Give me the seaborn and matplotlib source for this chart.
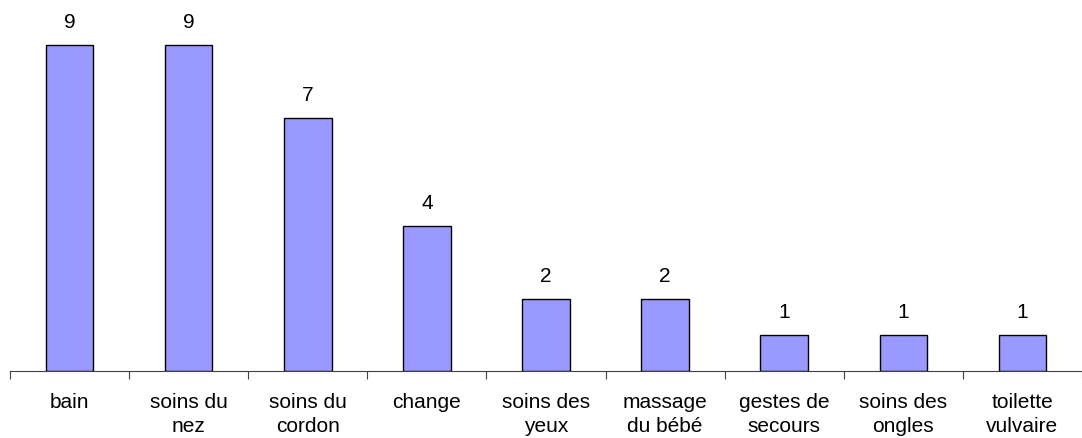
import matplotlib
matplotlib.use("Agg")
import matplotlib.pyplot as plt
import seaborn as sns
import pandas as pd
import numpy as np

categories = ["bain", "soins du\nnez", "soins du\ncordon", "change", "soins des\nyeux",
              "massage\ndu bébé", "gestes de\nsecours", "soins des\nongles", "toilette\nvulvaire"]
values = [9, 9, 7, 4, 2, 2, 1, 1, 1]

sns.set_style("white")
plt.rcParams["font.family"] = ["Liberation Sans", "DejaVu Sans"]

df = pd.DataFrame({"soin": categories, "n": values})

fig = plt.figure(figsize=(10.82, 4.39), dpi=100)
ax = fig.add_axes([10 / 1082, 67 / 439, 1 - 10 / 1082, 362 / 439])

sns.barplot(data=df, x="soin", y="n", color="#9999FF", width=0.4,
            edgecolor="black", linewidth=1.0, saturation=1, ax=ax)

for p, v in zip(ax.patches, values):
    ax.annotate(str(v), (p.get_x() + p.get_width() / 2, p.get_height()),
                xytext=(0, 10), textcoords="offset points",
                ha="center", va="bottom", fontsize=15, color="black")

n = len(categories)
ax.set_xlim(-0.5, n - 0.5)
ax.set_ylim(0, 10)

# category boundaries carry the tick marks, labels sit at the bar centres
ax.set_xticks(np.arange(n + 1) - 0.5)
ax.set_xticklabels([])
ax.set_xticks(np.arange(n), minor=True)
ax.set_xticklabels(categories, minor=True, fontsize=15, linespacing=1.35, color="black")
ax.tick_params(axis="x", which="major", bottom=True, length=6, width=0.8, color="#404040", direction="out")
ax.tick_params(axis="x", which="minor", bottom=True, length=0, pad=15)
ax.set_yticks([])
ax.set_xlabel("")
ax.set_ylabel("")

for s in ["top", "right", "left"]:
    ax.spines[s].set_visible(False)
ax.spines["bottom"].set_color("#404040")
ax.spines["bottom"].set_linewidth(0.8)

fig.savefig("out.png", dpi=100)
